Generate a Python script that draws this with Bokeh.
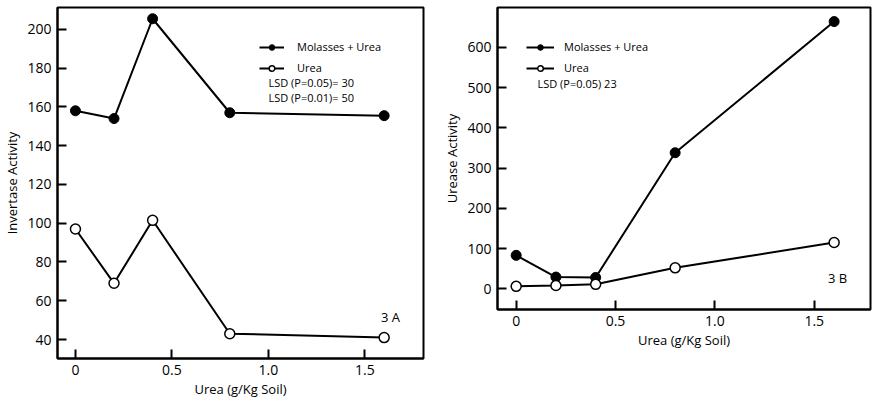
from bokeh.plotting import figure
from bokeh.layouts import row
from bokeh.models import Range1d, FixedTicker, Legend, LegendItem, Label
from bokeh.embed import file_html
from bokeh.resources import INLINE

# ---- data ----
urea_levels = [0.0, 0.2, 0.4, 0.8, 1.6]
invertase_molasses_urea = [158, 154, 205.5, 157, 155.5]
invertase_urea = [97, 69, 101.5, 43, 41]
urease_molasses_urea = [83, 29, 28, 338, 664]
urease_urea = [6, 8, 11, 52, 115]

x_ticks = [0, 0.5, 1.0, 1.5]
x_tick_labels = {0: "0", 0.5: "0.5", 1: "1.0", 1.5: "1.5"}
inv_ticks = [40, 60, 80, 100, 120, 140, 160, 180, 200]
ure_ticks = [0, 100, 200, 300, 400, 500, 600]

FONT = "Open Sans"


def style(p, yticks):
    p.grid.visible = False
    p.outline_line_color = "black"
    p.outline_line_width = 2
    p.background_fill_color = "white"
    p.border_fill_color = "white"
    for ax in (p.xaxis[0], p.yaxis[0]):
        ax.axis_line_color = "black"
        ax.axis_line_width = 2
        ax.major_tick_in = 9
        ax.major_tick_out = 0
        ax.major_tick_line_width = 2
        ax.minor_tick_line_color = None
        ax.major_label_text_font = FONT
        ax.major_label_text_color = "black"
        ax.major_label_text_font_size = "14px"
        ax.axis_label_text_font = FONT
        ax.axis_label_text_font_style = "normal"
        ax.axis_label_text_font_size = "13px"
        ax.axis_label_text_color = "black"
    p.xaxis[0].ticker = FixedTicker(ticks=x_ticks)
    p.xaxis[0].major_label_overrides = x_tick_labels
    p.xaxis[0].major_label_standoff = 6
    p.xaxis[0].axis_label_standoff = 2
    p.yaxis[0].ticker = FixedTicker(ticks=yticks)
    p.yaxis[0].major_label_standoff = 6
    p.yaxis[0].axis_label_standoff = 3


def add_series(p, y1, y2, loc, glyph_w, standoff):
    l1 = p.line(urea_levels, y1, line_color="black", line_width=2)
    s1 = p.scatter(urea_levels, y1, size=10, fill_color="black", line_color="black")
    l2 = p.line(urea_levels, y2, line_color="black", line_width=2)
    s2 = p.scatter(urea_levels, y2, size=10, fill_color="white", line_color="black", line_width=1.5)
    leg = Legend(items=[LegendItem(label="Molasses + Urea", renderers=[l1, s1]),
                        LegendItem(label="Urea", renderers=[l2, s2])],
                 location=loc, orientation="vertical")
    leg.border_line_color = None
    leg.background_fill_alpha = 0
    leg.padding = 0
    leg.margin = 0
    leg.spacing = 6
    leg.glyph_width = glyph_w
    leg.glyph_height = 14
    leg.label_height = 14
    leg.label_standoff = standoff
    leg.label_text_font = FONT
    leg.label_text_font_size = "11px"
    leg.label_text_color = "black"
    p.add_layout(leg)


# ---- left panel: invertase ----
p1 = figure(width=440, height=403, output_backend="svg", toolbar_location=None,
            x_range=Range1d(-0.093, 1.804), y_range=Range1d(30.2, 211.3),
            min_border_left=55, min_border_right=17, min_border_top=7, min_border_bottom=45,
            x_axis_label="Urea (g/Kg Soil)", y_axis_label="Invertase Activity")
style(p1, inv_ticks)
add_series(p1, invertase_molasses_urea, invertase_urea, (202, 283), 25, 13)
for txt, y in [("LSD (P=0.05)= 30", 82), ("LSD (P=0.01)= 50", 97)]:
    p1.add_layout(Label(x=266 - 55, y=358 - y, x_units="screen", y_units="screen", text=txt,
                        text_font=FONT, text_font_size="11px", text_color="black",
                        text_baseline="middle"))
p1.add_layout(Label(x=388 - 55, y=358 - 316, x_units="screen", y_units="screen", text="3 A",
                    text_font=FONT, text_font_size="13px", text_color="black",
                    text_align="center", text_baseline="middle"))

# ---- right panel: urease ----
p2 = figure(width=434, height=354, output_backend="svg", toolbar_location=None,
            x_range=Range1d(-0.094, 1.783), y_range=Range1d(-51.6, 699),
            min_border_left=52, min_border_right=4, min_border_top=7, min_border_bottom=45,
            x_axis_label="Urea (g/Kg Soil)", y_axis_label="Urease Activity")
style(p2, ure_ticks)
add_series(p2, urease_molasses_urea, urease_urea, (29, 234), 28, 10)
p2.add_layout(Label(x=532 - 492, y=309 - 83, x_units="screen", y_units="screen",
                    text="LSD (P=0.05)  23", text_font=FONT, text_font_size="11px",
                    text_color="black", text_baseline="middle"))
p2.add_layout(Label(x=832 - 492, y=309 - 277, x_units="screen", y_units="screen", text="3 B",
                    text_font=FONT, text_font_size="13px", text_color="black",
                    text_align="center", text_baseline="middle"))

layout = row(p1, p2)
open("out.html", "w").write(file_html(layout, INLINE))
